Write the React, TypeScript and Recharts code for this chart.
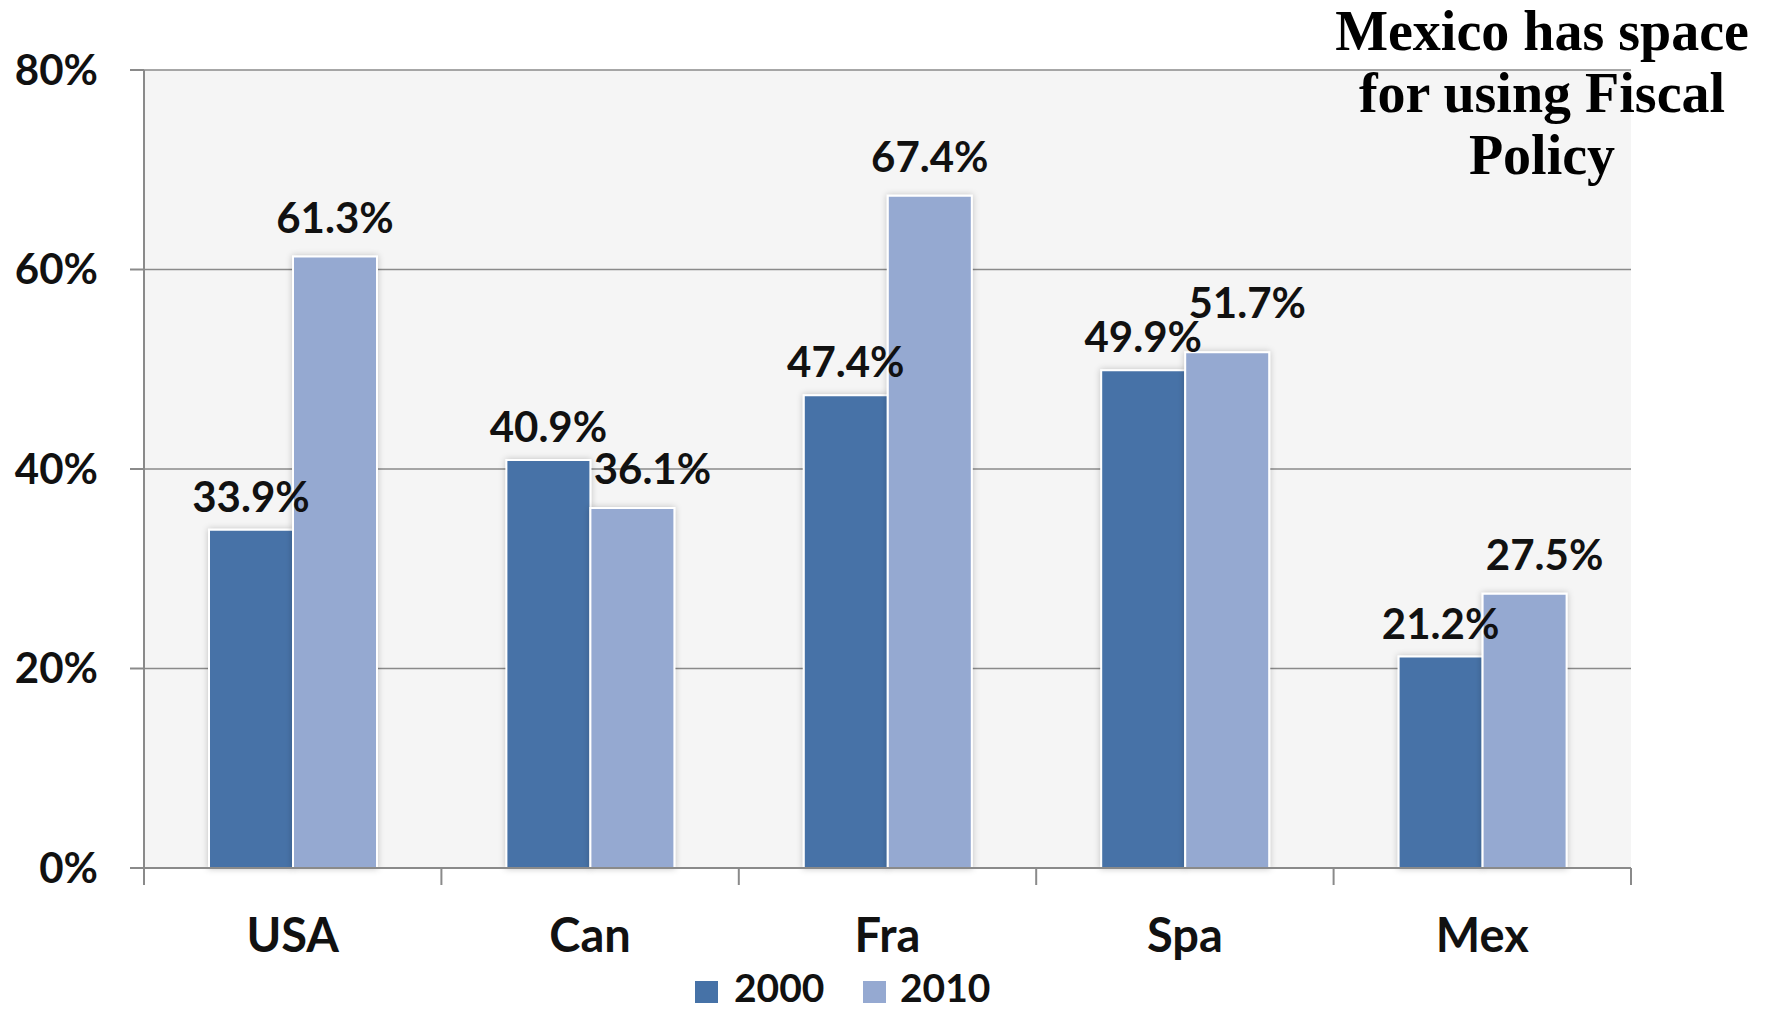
import React from "react";
import { BarChart, Bar, XAxis, YAxis, CartesianGrid, LabelList } from "recharts";

const countries = ["USA", "Can", "Fra", "Spa", "Mex"];
const values2000 = [33.9, 40.9, 47.4, 49.9, 21.2];
const values2010 = [61.3, 36.1, 67.4, 51.7, 27.5];
const yTicks = [0, 20, 40, 60, 80];
const seriesNames = ["2000", "2010"];
const titleLines = ["Mexico has space", "for using Fiscal", "Policy"];

const data = countries.map((country, i) => ({
  country,
  y2000: values2000[i],
  y2010: values2010[i],
}));

const DARK = "#4672a7";
const LIGHT = "#95a9d1";
const AXIS = "#8a8a8a";
const FONT = "Lato, 'Open Sans', sans-serif";
const LABEL_SIZE = 42;
const OFF_2000 = 18;
const OFF_2010 = 24;

function CountryTick(props: any) {
  const { x, y, payload, index, visibleTicksCount } = props;
  const half = payload?.offset ?? 148.7;
  const last = index === (visibleTicksCount ?? countries.length) - 1;
  return (
    <g>
      <line x1={x - half} x2={x - half} y1={y} y2={y + 17} stroke={AXIS} strokeWidth={2} />
      {last && <line x1={x + half} x2={x + half} y1={y} y2={y + 17} stroke={AXIS} strokeWidth={2} />}
      <text x={x} y={y + 84} textAnchor="middle" fontFamily={FONT} fontWeight={700} fontSize={47} fill="#111">
        {payload.value}
      </text>
    </g>
  );
}

const fmt = (v: any) => `${Number(v).toFixed(1)}%`;

// 2010 labels: nudge right / up when they would run into the 2000 label next door
function Label2010(props: any) {
  const { x, y, width, height, value, index } = props;
  const v = Number(value);
  const other = values2000[index];
  const base = y + height;
  const perUnit = v ? height / v : 0;
  const top2000 = base - other * perUnit;
  const cap = LABEL_SIZE * 0.72;
  const otherBaseline = top2000 - OFF_2000;
  let baseline = y - OFF_2010;
  const close = Math.abs(other - v) < 10;
  const dx = close ? 20 : 0;
  if (close && baseline > otherBaseline - cap - 4 && baseline - cap < otherBaseline) {
    baseline = otherBaseline - cap - 4;
  }
  return (
    <text x={x + width / 2 + dx} y={baseline} textAnchor="middle" fontFamily={FONT} fontWeight={700} fontSize={LABEL_SIZE} fill="#111">
      {fmt(v)}
    </text>
  );
}

export default function App() {
  return (
    <div style={{ position: "absolute", left: 0, top: 0, width: 1768, height: 1011, background: "#fff", overflow: "hidden" }}>
      <BarChart
        width={1768}
        height={1011}
        data={data}
        margin={{ top: 70, right: 137, left: 0, bottom: 0 }}
        barSize={84}
        barGap={0}
      >
        <defs>
          <filter id="barShadow" x="-20%" y="-10%" width="140%" height="120%">
            <feDropShadow dx="0" dy="0" stdDeviation="3" floodColor="#000" floodOpacity="0.22" />
          </filter>
        </defs>
        <CartesianGrid vertical={false} stroke={AXIS} strokeWidth={1.5} fill="#f5f5f5" />
        <YAxis
          width={144}
          domain={[0, 80]}
          ticks={yTicks}
          tickFormatter={(v) => `${v}%`}
          axisLine={{ stroke: AXIS, strokeWidth: 2 }}
          tickLine={{ stroke: AXIS, strokeWidth: 2 }}
          tickSize={14}
          tickMargin={32}
          tick={{ fontFamily: FONT, fontWeight: 700, fontSize: 42, fill: "#111" }}
        />
        <XAxis
          dataKey="country"
          height={143}
          axisLine={{ stroke: AXIS, strokeWidth: 2 }}
          tickLine={false}
          tickSize={0}
          tickMargin={0}
          interval={0}
          tick={<CountryTick />}
        />
        <Bar dataKey="y2000" name={seriesNames[0]} fill={DARK} stroke="#fff" strokeWidth={2} filter="url(#barShadow)" isAnimationActive={false}>
          <LabelList dataKey="y2000" position="top" offset={OFF_2000} formatter={fmt} fontFamily={FONT} fontWeight={700} fontSize={LABEL_SIZE} fill="#111" />
        </Bar>
        <Bar dataKey="y2010" name={seriesNames[1]} fill={LIGHT} stroke="#fff" strokeWidth={2} filter="url(#barShadow)" isAnimationActive={false}>
          <LabelList dataKey="y2010" content={<Label2010 />} />
        </Bar>
      </BarChart>

      {titleLines.map((l, i) => (
        <div
          key={l}
          style={{
            position: "absolute",
            left: 1292,
            top: 3 + i * 62,
            width: 500,
            textAlign: "center",
            fontFamily: "'Liberation Serif', serif",
            fontWeight: 700,
            fontSize: 56,
            lineHeight: "57px",
            color: "#000",
            whiteSpace: "nowrap",
          }}
        >
          {l}
        </div>
      ))}

      {seriesNames.map((name, i) => (
        <React.Fragment key={name}>
          <div style={{ position: "absolute", left: 695 + i * 168, top: 981, width: 23, height: 22, background: i === 0 ? DARK : LIGHT }} />
          <div
            style={{
              position: "absolute",
              left: 734 + i * 166,
              top: 969,
              fontFamily: FONT,
              fontWeight: 700,
              fontSize: 39,
              lineHeight: "36px",
              color: "#111",
            }}
          >
            {name}
          </div>
        </React.Fragment>
      ))}
    </div>
  );
}
